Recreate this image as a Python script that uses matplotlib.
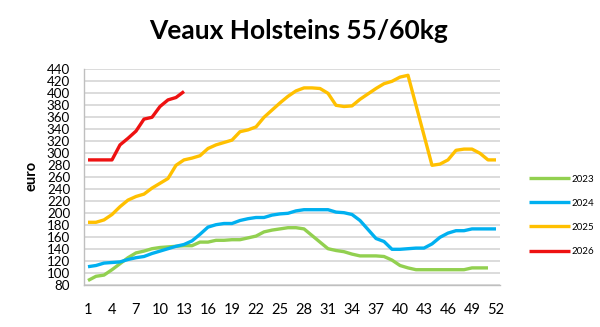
import numpy as np
import matplotlib
matplotlib.use("Agg")
import matplotlib.pyplot as plt

weeks = list(range(1, 53))

v2023 = [88, 95, 97, 106, 116, 126, 134, 137, 141, 143, 144, 145, 146, 146, 152, 152,
         155, 155, 156, 156, 159, 162, 169, 172, 174, 176, 176, 174, 163, 152, 141, 138,
         136, 132, 129, 129, 129, 128, 122, 113, 109, 106, 106, 106, 106, 106, 106, 106,
         109, 109, 109, None]
v2024 = [111, 113, 117, 118, 119, 123, 126, 128, 133, 137, 141, 145, 148, 154, 165, 177,
         181, 183, 183, 188, 191, 193, 193, 197, 199, 200, 204, 206, 206, 206, 206, 202,
         201, 198, 188, 173, 158, 153, 140, 140, 141, 142, 142, 149, 160, 167, 171, 171,
         174, 174, 174, 174]
v2025 = [185, 185, 189, 198, 211, 222, 228, 232, 242, 250, 258, 280, 289, 292, 296, 308,
         314, 318, 322, 336, 339, 344, 360, 372, 384, 395, 404, 409, 409, 408, 400, 380,
         378, 379, 390, 399, 408, 416, 420, 427, 430, 380, 330, 280, 282, 289, 305, 307,
         307, 300, 289, 289]
v2026 = [289, 289, 289, 289, 314, 325, 337, 357, 360, 378, 389, 393, 403]

series_names = ["2023", "2024", "2025", "2026"]
colors = ["#92D050", "#00B0F0", "#FFC000", "#EE1111"]

x_ticks = list(range(1, 53, 3))
y_ticks = list(range(80, 441, 20))

plt.rcParams['font.family'] = ['Lato', 'DejaVu Sans']

fig = plt.figure(figsize=(6.0, 3.27), dpi=100)
ax = fig.add_axes([84/600, 1 - 285.3/327, (500-84)/600, (285.3-69.3)/327])

for name, vals, c in zip(series_names, [v2023, v2024, v2025, v2026], colors):
    y = np.array([np.nan if v is None else v for v in vals], dtype=float)
    ax.plot(weeks[:len(y)], y, color=c, lw=2.4, label=name, solid_capstyle='butt',
            solid_joinstyle='round', zorder=3)

ax.set_xlim(0.5, 52.5)
ax.set_ylim(80, 440)
ax.set_xticks(x_ticks)
ax.set_yticks(y_ticks)
ax.tick_params(axis='both', length=0, colors='black')
ax.tick_params(axis='y', pad=10, labelsize=9.6)
ax.tick_params(axis='x', pad=13, labelsize=10.5)
ax.grid(axis='y', color='#D9D9D9', lw=1.3, zorder=0)
for s in ['top', 'right']:
    ax.spines[s].set_visible(False)
for s in ['left', 'bottom']:
    ax.spines[s].set_color('#BFBFBF')
    ax.spines[s].set_linewidth(1.0)

fig.text(32/600, 1 - 176/327, "euro", rotation=90, ha='center', va='center',
         fontsize=10.5, fontweight='bold')
fig.text(298.5/600, 1 - 31/327, "Veaux Holsteins 55/60kg", ha='center', va='center',
         fontsize=19, fontweight='bold')

leg = fig.legend(loc='upper left', bbox_to_anchor=(520/600, 1 - 166/327), frameon=False,
                 fontsize=7, handlelength=4.2, handletextpad=0.2, labelspacing=1.55)
for line in leg.get_lines():
    line.set_linewidth(2.4)

fig.savefig("out.png", dpi=100)
